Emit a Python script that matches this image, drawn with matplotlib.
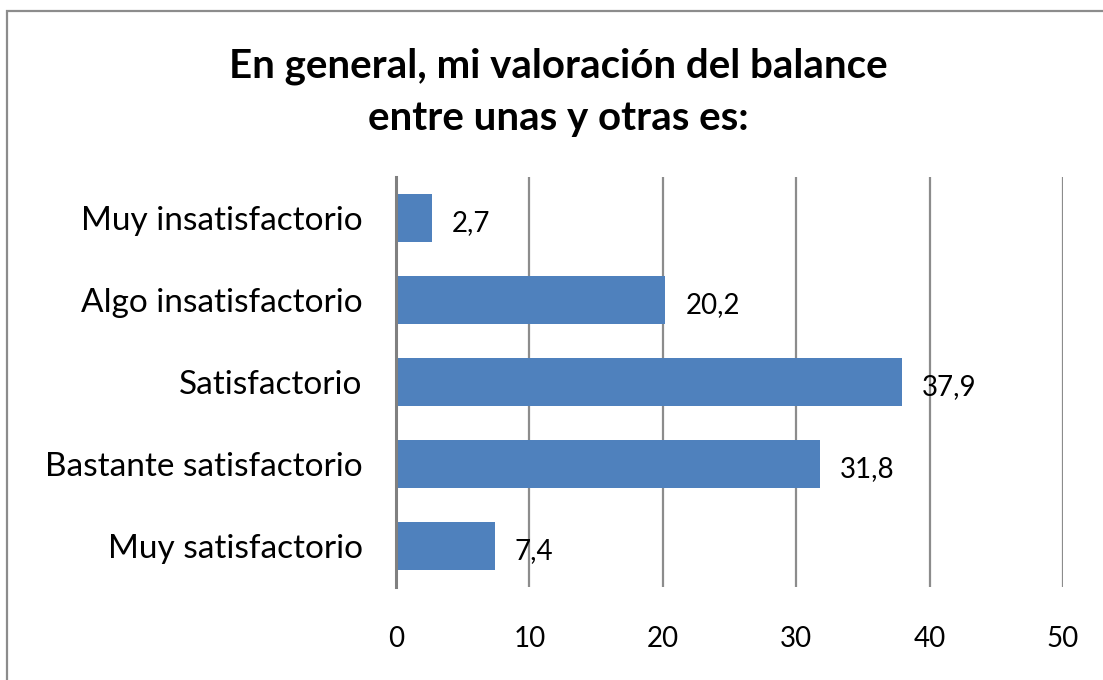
import matplotlib
matplotlib.use("Agg")
import matplotlib.pyplot as plt
from matplotlib.patches import Rectangle

# datos
categorias = ['Muy satisfactorio', 'Bastante satisfactorio', 'Satisfactorio',
              'Algo insatisfactorio', 'Muy insatisfactorio']
valores = [7.4, 31.8, 37.9, 20.2, 2.7]
etiquetas = ['7,4', '31,8', '37,9', '20,2', '2,7']
xticks = [0, 10, 20, 30, 40, 50]

plt.rcParams['font.family'] = ['Lato', 'DejaVu Sans']

W, H = 1103, 680
fig = plt.figure(figsize=(W / 100, H / 100), dpi=100)

# marco gris del grafico
fig.patches.append(Rectangle((7 / W, -0.1), 1.2, 1 - 11 / H + 0.1,
                             transform=fig.transFigure, fill=False,
                             edgecolor='#8c8c8c', linewidth=1.6))

ax = fig.add_axes([396 / W, 1 - 587 / H, (1063 - 396) / W, (587 - 177) / H])
y = range(len(categorias))
ax.barh(y, valores, height=0.58, color='#4F81BD', zorder=3)
for yi, v, lab in zip(y, valores, etiquetas):
    ax.text(v + 1.5, yi - 0.06, lab, va='center', ha='left', fontsize=20, zorder=4)

ax.set_xlim(0, 50)
ax.set_ylim(-0.5, 4.5)
ax.set_xticks(xticks)
ax.set_xticklabels([str(t) for t in xticks])
ax.set_yticks(list(y))
ax.set_yticklabels(categorias)
ax.tick_params(axis='x', length=0, pad=28, labelsize=20)
ax.tick_params(axis='y', length=0, pad=24, labelsize=24)
ax.grid(axis='x', color='#8c8c8c', linewidth=1.6, zorder=0)
for s in ['top', 'right', 'bottom']:
    ax.spines[s].set_visible(False)
ax.spines['left'].set_color('#808080')
ax.spines['left'].set_linewidth(2.2)
ax.spines['left'].set_zorder(5)

fig.text(558 / W, 1 - 92 / H, 'En general, mi valoración del balance\nentre unas y otras es:',
         ha='center', va='center', fontsize=29, fontweight='bold', linespacing=1.5)

fig.savefig('out.png', dpi=100)
